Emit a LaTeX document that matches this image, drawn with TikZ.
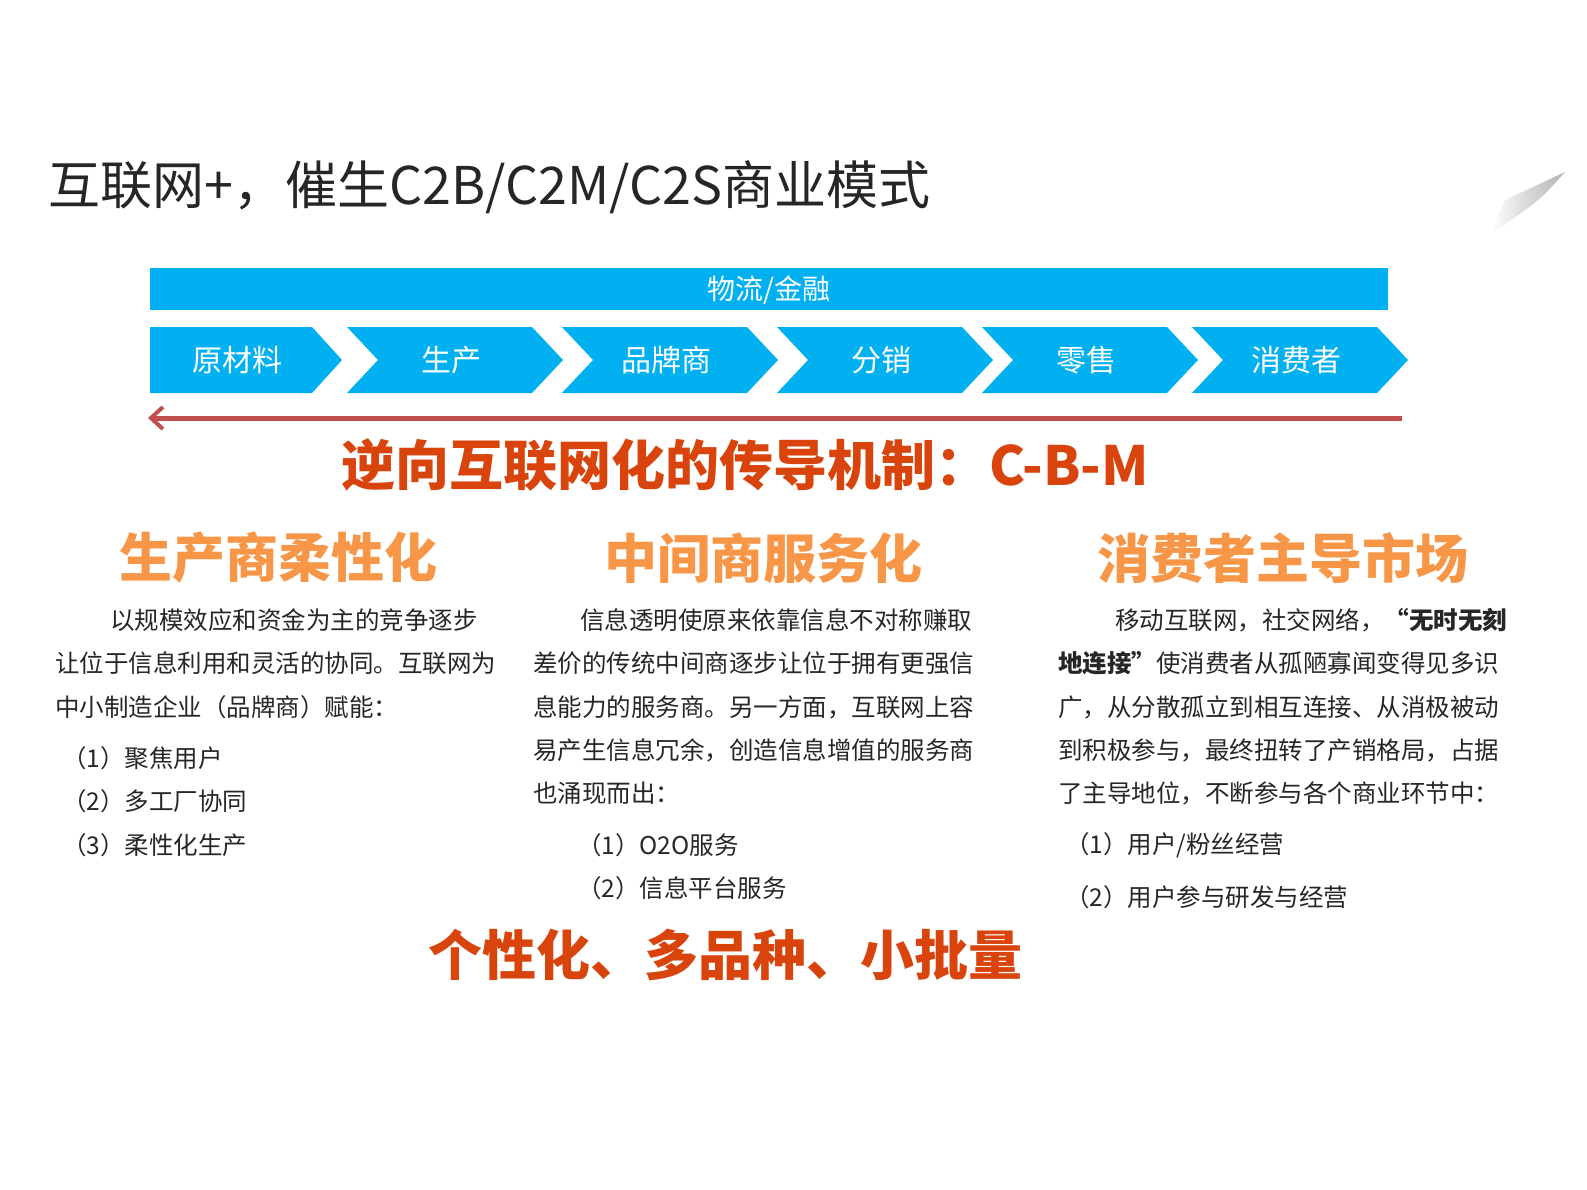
\documentclass[tikz,border=0pt]{standalone}
\usepackage{fontspec}
\usetikzlibrary{arrows.meta}
\setmainfont{Noto Sans CJK SC}
\begin{document}
\begin{tikzpicture}[x=1pt,y=-1pt,
  bt/.style={anchor=west,font=\fontsize{24.5}{24.5}\selectfont,text=black!85,inner sep=0},
  ch/.style={fill=cyanb,draw=none},
  cl/.style={text=white,font=\fontsize{30}{30}\selectfont},
  oh/.style={text=orangeh,font=\fontsize{53}{53}\selectfont\bfseries},
  rh/.style={text=redh,font=\fontsize{54}{54}\selectfont\bfseries}]
\definecolor{cyanb}{HTML}{00B0F0}
\definecolor{orangeh}{HTML}{F79646}
\definecolor{redh}{HTML}{D8440C}
\definecolor{arr}{HTML}{C0504D}
\useasboundingbox (0,0) rectangle (1587,1190);
\node[anchor=west,inner sep=0,font=\fontsize{52}{52}\selectfont,text=black!85] (title) at (48,187) {互联网+，催生C2B/C2M/C2S商业模式};
% page curl
\shade[left color=white, right color=gray!60] (1490,235) -- (1505,200) -- (1565,172) .. controls (1540,200) .. (1490,235);
% bar
\fill[cyanb] (150,268) rectangle (1388,310);
\node[cl,font=\fontsize{28}{28}\selectfont] (bar) at (769,290) {物流/金融};
% chevrons
\fill[ch] (150,327) -- (312,327) -- (342,360) -- (312,393) -- (150,393) -- cycle;
\node[cl] (c1) at (237,360) {原材料};
\foreach \s/\t/\n in {347/生产/c2,562/品牌商/c3,777/分销/c4,982/零售/c5,1192/消费者/c6}{
  \fill[ch] (\s,327) -- (\s+185,327) -- (\s+216,360) -- (\s+185,393) -- (\s,393) -- (\s+31,360) -- cycle;
  \node[cl] (\n) at (\s+104,360) {\t};
}
\coordinate (ae) at (1402,418);
\coordinate (as) at (148,418);
\draw[arr,line width=5pt,-{Straight Barb[length=12pt,width=22pt,line width=4pt]}] (ae) -- (as);
\node[rh] (h) at (745,465) {逆向互联网化的传导机制：C-B-M};
\node[oh] (o1) at (278,558) {生产商柔性化};
\node[oh] (o2) at (763,558) {中间商服务化};
\node[oh] (o3) at (1283,558) {消费者主导市场};
% col1
\node[bt] (a1) at (110,620) {以规模效应和资金为主的竞争逐步};
\node[bt] (a2) at (55,663) {让位于信息利用和灵活的协同。互联网为};
\node[bt] (a3) at (55,707) {中小制造企业（品牌商）赋能：};
\node[bt] (a4) at (62,758) {（1）聚焦用户};
\node[bt] (a5) at (62,801) {（2）多工厂协同};
\node[bt] (a6) at (62,845) {（3）柔性化生产};
% col2
\node[bt] (b1) at (580,620) {信息透明使原来依靠信息不对称赚取};
\node[bt] (b2) at (533,663) {差价的传统中间商逐步让位于拥有更强信};
\node[bt] (b3) at (533,707) {息能力的服务商。另一方面，互联网上容};
\node[bt] (b4) at (533,750) {易产生信息冗余，创造信息增值的服务商};
\node[bt] (b5) at (533,793) {也涌现而出：};
\node[bt] (b6) at (577,845) {（1）O2O服务};
\node[bt] (b7) at (577,888) {（2）信息平台服务};
% col3
\node[bt] (d1) at (1115,620) {移动互联网，社交网络，\textbf{“无时无刻}};
\node[bt] (d2) at (1058,663) {\textbf{地连接”}使消费者从孤陋寡闻变得见多识};
\node[bt] (d3) at (1058,707) {广，从分散孤立到相互连接、从消极被动};
\node[bt] (d4) at (1058,750) {到积极参与，最终扭转了产销格局，占据};
\node[bt] (d5) at (1058,793) {了主导地位，不断参与各个商业环节中：};
\node[bt] (d6) at (1065,845) {（1）用户/粉丝经营};
\node[bt] (d7) at (1065,897) {（2）用户参与研发与经营};
\node[rh] (bot) at (725,955) {个性化、多品种、小批量};
\end{tikzpicture}
\end{document}
